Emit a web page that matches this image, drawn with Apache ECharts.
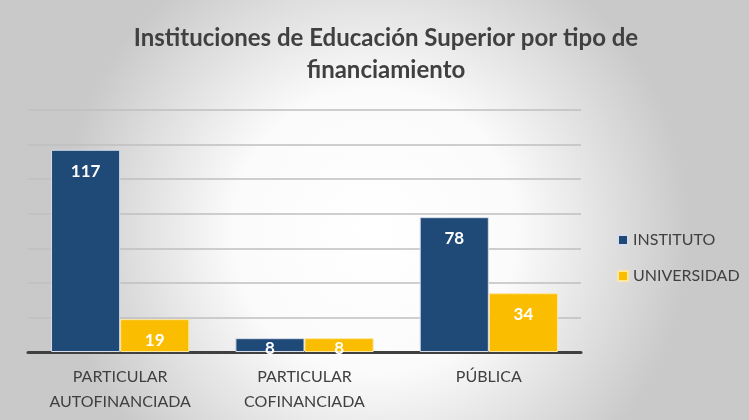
<!DOCTYPE html>
<html>
<head>
<meta charset="utf-8">
<script src="https://cdn.jsdelivr.net/npm/echarts@6/dist/echarts.min.js"></script>
<style>
  html, body { margin: 0; padding: 0; }
  #main { width: 749px; height: 420px; }
</style>
</head>
<body>
<div id="main"></div>
<script>
// data
var categories = ['PARTICULAR\nAUTOFINANCIADA', 'PARTICULAR\nCOFINANCIADA', 'PÚBLICA'];
var instituto = [117, 8, 78];
var universidad = [19, 8, 34];

var myChart = echarts.init(document.getElementById('main'));
var font = 'Lato, "Open Sans", sans-serif';

function barData(values) {
  // small bars: the label sits lower, over the axis
  return values.map(function (v) {
    return v < 15 ? { value: v, label: { distance: 2 } } : v;
  });
}

var labelStyle = {
  show: true,
  position: 'insideTop',
  distance: 13,
  color: '#fff',
  fontWeight: 'bold',
  fontSize: 17,
  fontFamily: font
};

var option = {
  backgroundColor: {
    type: 'radial', x: 0.5, y: 0.55, r: 0.75,
    colorStops: [
      { offset: 0, color: '#ffffff' },
      { offset: 0.45, color: '#fbfbfb' },
      { offset: 1, color: '#c9c9c9' }
    ]
  },
  title: {
    text: 'Instituciones de Educación Superior por tipo de\nfinanciamiento',
    left: 381,
    textAlign: 'center',
    top: 17,
    textStyle: {
      color: '#404040',
      fontSize: 24,
      fontWeight: 'bold',
      fontFamily: font,
      lineHeight: 32
    }
  },
  legend: {
    orient: 'vertical',
    left: 612,
    top: 227,
    itemWidth: 10,
    itemHeight: 10,
    itemGap: 20,
    icon: 'rect',
    textStyle: { color: '#404040', fontSize: 16, fontFamily: font },
    data: ['INSTITUTO', 'UNIVERSIDAD']
  },
  grid: { left: 28, right: 168, top: 110, bottom: 68 },
  xAxis: {
    type: 'category',
    z: 1,
    data: categories,
    axisLine: { lineStyle: { color: '#404040', width: 3 } },
    axisTick: { show: false },
    axisLabel: {
      color: '#404040',
      fontSize: 16,
      fontFamily: font,
      lineHeight: 25,
      margin: 12
    }
  },
  yAxis: {
    type: 'value',
    min: 0,
    max: 140,
    interval: 20,
    axisLabel: { show: false },
    axisLine: { show: false },
    axisTick: { show: false },
    splitLine: { lineStyle: { color: '#bfbfbf', width: 1.5 } }
  },
  series: [
    {
      name: 'INSTITUTO',
      type: 'bar',
      z: 5,
      barGap: '0%',
      barCategoryGap: '25%',
      itemStyle: { color: '#1f4a78', borderColor: '#d6dde8', borderWidth: 1 },
      label: labelStyle,
      data: barData(instituto)
    },
    {
      name: 'UNIVERSIDAD',
      type: 'bar',
      z: 5,
      itemStyle: { color: '#fbbd00', borderColor: '#fde6a0', borderWidth: 1 },
      label: labelStyle,
      data: barData(universidad)
    }
  ]
};

myChart.setOption(option);
</script>
</body>
</html>
